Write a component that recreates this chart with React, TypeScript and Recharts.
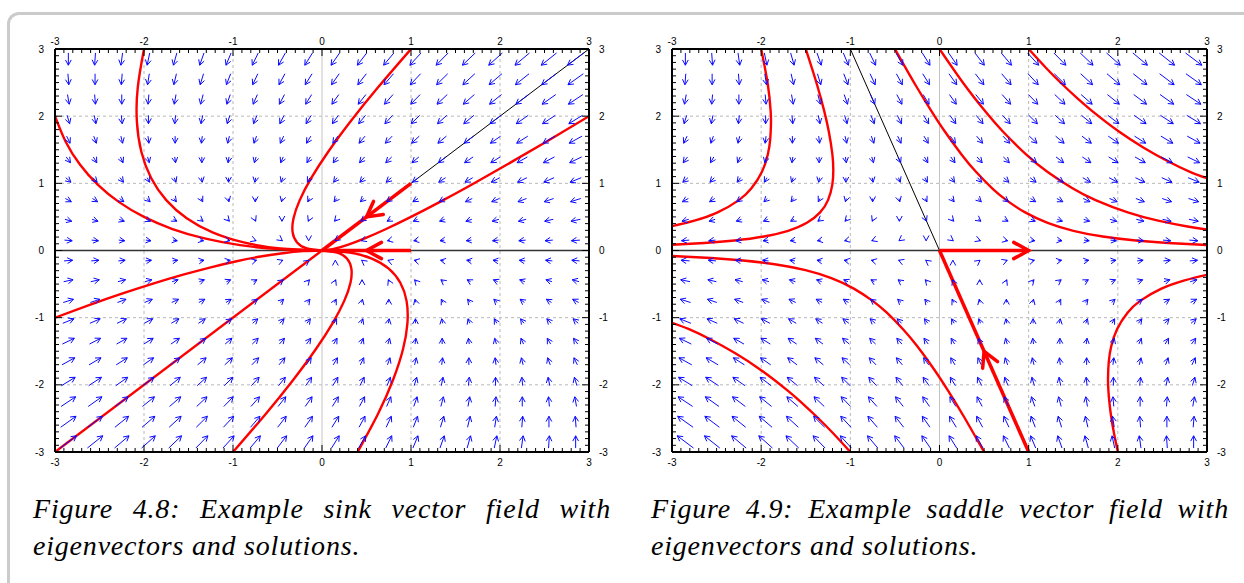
import React from "react";
import { ComposedChart, XAxis, YAxis, Line, Scatter, ReferenceLine } from "recharts";

// cell centres of the arrow grid, axis ticks
const gridCoords = [
  -2.85, -2.55, -2.25, -1.95, -1.65, -1.35, -1.05, -0.75, -0.45, -0.15,
  0.15, 0.45, 0.75, 1.05, 1.35, 1.65, 1.95, 2.25, 2.55, 2.85,
];
const minorTicks = Array.from({ length: 61 }, (_, i) => (i - 30) / 10);
const gridLines = [-2, -1, 1, 2];

// linear systems x' = A x
const sinkMatrix = [
  [-1, -1],
  [0, -2],
];
const saddleMatrix = [
  [1, 1],
  [0, -2],
];

// sink solution curves (Figure 4.8)
const sinkCurve1 = [[-3, 2], [-2.88, 1.62], [-2.72, 1.28], [-2.52, 0.98], [-2.28, 0.72], [-2.0, 0.5], [-1.68, 0.32], [-1.32, 0.18], [-0.92, 0.08], [-0.48, 0.02], [0, 0]];
const sinkCurve2 = [[-2, 3], [-2.07, 2.43], [-2.08, 1.92], [-2.03, 1.47], [-1.92, 1.08], [-1.75, 0.75], [-1.52, 0.48], [-1.23, 0.27], [-0.88, 0.12], [-0.47, 0.03], [0, 0]];
const sinkCurve3 = [[1, 3], [0.63, 2.43], [0.32, 1.92], [0.07, 1.47], [-0.12, 1.08], [-0.25, 0.75], [-0.32, 0.48], [-0.33, 0.27], [-0.28, 0.12], [-0.17, 0.03], [0, 0]];
const sinkCurve4 = [[3, 2], [2.52, 1.62], [2.08, 1.28], [1.68, 0.98], [1.32, 0.72], [1.0, 0.5], [0.72, 0.32], [0.48, 0.18], [0.28, 0.08], [0.12, 0.02], [0, 0]];
const sinkCurve5 = [[-3, -1], [-2.61, -0.81], [-2.24, -0.64], [-1.89, -0.49], [-1.56, -0.36], [-1.25, -0.25], [-0.96, -0.16], [-0.69, -0.09], [-0.44, -0.04], [-0.21, -0.01], [0, 0]];
const sinkCurve6 = [[-3, -3], [0, 0]];
const sinkCurve7 = [[-1, -3], [-0.63, -2.43], [-0.32, -1.92], [-0.07, -1.47], [0.12, -1.08], [0.25, -0.75], [0.32, -0.48], [0.33, -0.27], [0.28, -0.12], [0.17, -0.03], [0, 0]];
const sinkCurve8 = [[0.4, -3], [0.63, -2.43], [0.8, -1.92], [0.91, -1.47], [0.96, -1.08], [0.95, -0.75], [0.88, -0.48], [0.75, -0.27], [0.56, -0.12], [0.31, -0.03], [0, 0]];

// saddle solution curves (Figure 4.9)
const saddleCurve1 = [[-2, 3], [-1.926, 2.479], [-1.894, 2.083], [-1.89, 1.89], [-1.899, 1.646], [-1.926, 1.427], [-1.991, 1.172], [-2.109, 0.926], [-2.25, 0.75], [-2.489, 0.567], [-2.748, 0.444], [-3.0, 0.362]];
const saddleCurve2 = [[-1.5, 3], [-1.376, 2.479], [-1.294, 2.083], [-1.242, 1.775], [-1.201, 1.427], [-1.191, 1.191], [-1.202, 0.98], [-1.25, 0.75], [-1.339, 0.567], [-1.487, 0.412], [-1.698, 0.293], [-1.969, 0.208], [-2.299, 0.148], [-2.637, 0.111], [-3.0, 0.085]];
const saddleCurve3 = [[-0.5, 3], [-0.276, 2.479], [-0.094, 2.083], [0.058, 1.775], [0.249, 1.427], [0.409, 1.172], [0.591, 0.926], [0.75, 0.75], [0.961, 0.567], [1.213, 0.412], [1.502, 0.293], [1.831, 0.208], [2.201, 0.148], [2.563, 0.111], [3.0, 0.082]];
const saddleCurve4 = [[0, 3], [0.274, 2.479], [0.506, 2.083], [0.708, 1.775], [0.974, 1.427], [1.209, 1.172], [1.491, 0.926], [1.75, 0.75], [2.111, 0.567], [2.452, 0.444], [2.781, 0.357], [3.0, 0.312]];
const saddleCurve5 = [[1, 3], [1.193, 2.721], [1.374, 2.479], [1.544, 2.268], [1.706, 2.083], [2.008, 1.775], [2.29, 1.531], [2.556, 1.333], [2.809, 1.172], [3.0, 1.076]];
const saddleCurve6 = [[0.5, -3], [0.276, -2.479], [0.094, -2.083], [-0.058, -1.775], [-0.249, -1.427], [-0.409, -1.172], [-0.591, -0.926], [-0.75, -0.75], [-0.961, -0.567], [-1.213, -0.412], [-1.502, -0.293], [-1.831, -0.208], [-2.201, -0.148], [-2.563, -0.111], [-3.0, -0.082]];
const saddleCurve7 = [[-1, -3], [-1.193, -2.721], [-1.374, -2.479], [-1.544, -2.268], [-1.706, -2.083], [-2.008, -1.775], [-2.29, -1.531], [-2.556, -1.333], [-2.809, -1.172], [-3.0, -1.076]];
const saddleCurve8 = [[2, -3], [1.957, -2.721], [1.926, -2.479], [1.906, -2.268], [1.894, -2.083], [1.89, -1.89], [1.899, -1.646], [1.926, -1.427], [1.991, -1.172], [2.109, -0.926], [2.25, -0.75], [2.489, -0.567], [2.748, -0.444], [3.0, -0.362]];

// eigenvectors
const sinkEigenLine = [[0, 0], [3, 3]];
const sinkEigenSegs = [[[1, 1], [0, 0]], [[1, 0], [0, 0]]];
const sinkEigenHeads = [
  { x: 0.5, y: 0.5, dx: -1, dy: -1 },
  { x: 0.5, y: 0, dx: -1, dy: 0 },
];
const saddleEigenLine = [[-1, 3], [0, 0]];
const saddleEigenSegs = [[[0, 0], [1, -3]], [[0, 0], [1, 0]]];
const saddleEigenHeads = [
  { x: 0.5, y: -1.5, dx: -1, dy: 3 },
  { x: 1, y: 0, dx: 1, dy: 0 },
];

const PX_X = 89;
const PX_Y = 403 / 6;
const FIELD_SCALE = 0.032;
const AXIS_FONT = "'Liberation Sans', Arial, Helvetica, sans-serif";
const CAPTION_FONT = "'Liberation Serif', 'DejaVu Serif', serif";

const toPts = (pts: number[][]) => pts.map(([x, y]) => ({ x, y }));

const buildField = (m: number[][]) =>
  gridCoords.flatMap((y) =>
    gridCoords.map((x) => ({
      x,
      y,
      u: m[0][0] * x + m[0][1] * y,
      v: m[1][0] * x + m[1][1] * y,
    }))
  );

function FieldArrow(props: any) {
  const { cx, cy, payload } = props;
  if (cx == null || cy == null) return null;
  const dx = payload.u * FIELD_SCALE * PX_X;
  const dy = -payload.v * FIELD_SCALE * PX_Y;
  const x1 = cx - dx / 2;
  const y1 = cy - dy / 2;
  const x2 = cx + dx / 2;
  const y2 = cy + dy / 2;
  const ang = Math.atan2(dy, dx);
  const h = 6;
  const a = 0.5;
  const w1x = x2 - h * Math.cos(ang - a);
  const w1y = y2 - h * Math.sin(ang - a);
  const w2x = x2 - h * Math.cos(ang + a);
  const w2y = y2 - h * Math.sin(ang + a);
  return (
    <path
      d={`M${x1},${y1}L${x2},${y2}M${w1x},${w1y}L${x2},${y2}L${w2x},${w2y}`}
      stroke="#0a0aff"
      strokeWidth={1}
      fill="none"
    />
  );
}

function EigenHead(props: any) {
  const { cx, cy, payload } = props;
  if (cx == null || cy == null) return null;
  const ang = Math.atan2(-payload.dy * PX_Y, payload.dx * PX_X);
  const h = 17;
  const a = 0.5;
  const w1x = cx - h * Math.cos(ang - a);
  const w1y = cy - h * Math.sin(ang - a);
  const w2x = cx - h * Math.cos(ang + a);
  const w2y = cy - h * Math.sin(ang + a);
  return (
    <path
      d={`M${w1x},${w1y}L${cx},${cy}L${w2x},${w2y}`}
      stroke="#ff0000"
      strokeWidth={3.5}
      fill="none"
      strokeLinecap="round"
    />
  );
}

function makeTick(side: "top" | "bottom" | "left" | "right") {
  return (props: any) => {
    const { x, y, payload } = props;
    const v = payload.value as number;
    const major = Math.abs(v - Math.round(v)) < 1e-6;
    const len = major ? 7 : 4;
    const label = major ? String(Math.round(v)) : null;
    let line = null;
    let text = null;
    const tp = { fontFamily: AXIS_FONT, fontSize: 10, fill: "#000" };
    if (side === "bottom") {
      line = <line x1={x} y1={y} x2={x} y2={y - len} />;
      if (label) text = <text x={x} y={y + 14} textAnchor="middle" {...tp}>{label}</text>;
    } else if (side === "top") {
      line = <line x1={x} y1={y} x2={x} y2={y + len} />;
      if (label) text = <text x={x} y={y - 4} textAnchor="middle" {...tp}>{label}</text>;
    } else if (side === "left") {
      line = <line x1={x} y1={y} x2={x + len} y2={y} />;
      if (label) text = <text x={x - 11} y={y + 3.6} textAnchor="end" {...tp}>{label}</text>;
    } else {
      line = <line x1={x} y1={y} x2={x - len} y2={y} />;
      if (label) text = <text x={x + 10} y={y + 3.6} textAnchor="start" {...tp}>{label}</text>;
    }
    return (
      <g>
        <g stroke="#000" strokeWidth={1}>{line}</g>
        {text}
      </g>
    );
  };
}

type PlotProps = {
  width: number;
  matrix: number[][];
  curves: number[][][];
  eigenLine: number[][];
  eigenSegs: number[][][];
  eigenHeads: { x: number; y: number; dx: number; dy: number }[];
};

function PhasePlot({ width, matrix, curves, eigenLine, eigenSegs, eigenHeads }: PlotProps) {
  const field = buildField(matrix);
  const ax = { xAxisId: "b", yAxisId: "l" };
  const axisLine = { stroke: "#000", strokeWidth: 2 };
  return (
    <ComposedChart width={width} height={475} margin={{ top: 9, right: 1, bottom: 3, left: 5 }}>
      <XAxis xAxisId="b" orientation="bottom" dataKey="x" type="number" domain={[-3, 3]} ticks={minorTicks} interval={0} allowDataOverflow height={20} tickSize={0} tickMargin={0} tickLine={false} axisLine={axisLine} tick={makeTick("bottom")} />
      <XAxis xAxisId="t" orientation="top" dataKey="x" type="number" domain={[-3, 3]} ticks={minorTicks} interval={0} allowDataOverflow height={40} tickSize={0} tickMargin={0} tickLine={false} axisLine={axisLine} tick={makeTick("top")} />
      <YAxis yAxisId="l" orientation="left" dataKey="y" type="number" domain={[-3, 3]} ticks={minorTicks} interval={0} allowDataOverflow width={50} tickSize={0} tickMargin={0} tickLine={false} axisLine={axisLine} tick={makeTick("left")} />
      <YAxis yAxisId="r" orientation="right" dataKey="y" type="number" domain={[-3, 3]} ticks={minorTicks} interval={0} allowDataOverflow width={30} tickSize={0} tickMargin={0} tickLine={false} axisLine={axisLine} tick={makeTick("right")} />

      {gridLines.map((g) => (
        <ReferenceLine key={`gx${g}`} {...ax} x={g} stroke="#b8b8b8" strokeDasharray="3 3" strokeWidth={1} />
      ))}
      {gridLines.map((g) => (
        <ReferenceLine key={`gy${g}`} {...ax} y={g} stroke="#b8b8b8" strokeDasharray="3 3" strokeWidth={1} />
      ))}
      <ReferenceLine {...ax} x={0} stroke="#c4c4c4" strokeWidth={1} />
      <ReferenceLine {...ax} y={0} stroke="#333" strokeWidth={1.5} />

      <Scatter {...ax} data={field} dataKey="y" shape={FieldArrow} isAnimationActive={false} />

      <Line {...ax} data={toPts(eigenLine)} dataKey="y" type="linear" stroke="#000" strokeWidth={1} dot={false} activeDot={false} isAnimationActive={false} />
      {curves.map((c, i) => (
        <Line key={`c${i}`} {...ax} data={toPts(c)} dataKey="y" type="natural" stroke="#ff0000" strokeWidth={2.4} dot={false} activeDot={false} isAnimationActive={false} />
      ))}
      {eigenSegs.map((s, i) => (
        <Line key={`e${i}`} {...ax} data={toPts(s)} dataKey="y" type="linear" stroke="#ff0000" strokeWidth={3.5} dot={false} activeDot={false} isAnimationActive={false} />
      ))}
      <Scatter {...ax} data={eigenHeads} dataKey="y" shape={EigenHead} isAnimationActive={false} />
    </ComposedChart>
  );
}

function Caption({ left, first, second }: { left: number; first: string; second: string }) {
  const base: React.CSSProperties = {
    fontFamily: CAPTION_FONT,
    fontStyle: "italic",
    fontSize: 28,
    lineHeight: "37px",
    letterSpacing: 0.8,
    color: "#000",
    whiteSpace: "nowrap",
  };
  return (
    <div style={{ position: "absolute", left, top: 490, width: 578 }}>
      <div style={{ ...base, textAlign: "justify", textAlignLast: "justify" }}>{first}</div>
      <div style={base}>{second}</div>
    </div>
  );
}

export default function App() {
  return (
    <div style={{ position: "absolute", left: 0, top: 0, width: 1244, height: 583, overflow: "hidden", background: "#fff" }}>
      <div style={{ position: "absolute", left: 7, top: 12, width: 1400, height: 800, border: "3px solid #cbcbcb", borderRadius: 12 }} />
      <div style={{ position: "absolute", left: 0, top: 0 }}>
        <PhasePlot
          width={620}
          matrix={sinkMatrix}
          curves={[sinkCurve1, sinkCurve2, sinkCurve3, sinkCurve4, sinkCurve5, sinkCurve6, sinkCurve7, sinkCurve8]}
          eigenLine={sinkEigenLine}
          eigenSegs={sinkEigenSegs}
          eigenHeads={sinkEigenHeads}
        />
      </div>
      <div style={{ position: "absolute", left: 617, top: 0 }}>
        <PhasePlot
          width={621}
          matrix={saddleMatrix}
          curves={[saddleCurve1, saddleCurve2, saddleCurve3, saddleCurve4, saddleCurve5, saddleCurve6, saddleCurve7, saddleCurve8]}
          eigenLine={saddleEigenLine}
          eigenSegs={saddleEigenSegs}
          eigenHeads={saddleEigenHeads}
        />
      </div>
      <Caption left={33} first="Figure 4.8: Example sink vector field with" second="eigenvectors and solutions." />
      <Caption left={651} first="Figure 4.9: Example saddle vector field with" second="eigenvectors and solutions." />
    </div>
  );
}
